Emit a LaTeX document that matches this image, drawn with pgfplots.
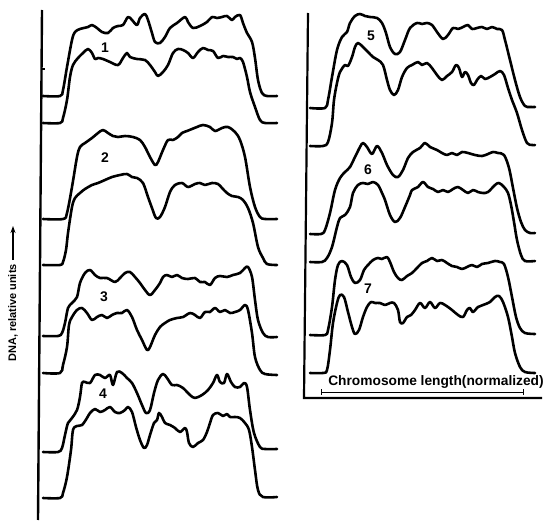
\documentclass[border=0pt]{standalone}
\usepackage{fontspec}
\setmainfont{Liberation Sans}
\usepackage{pgfplots}
\pgfplotsset{compat=1.18}
\usetikzlibrary{arrows.meta}
\tikzset{
    trace/.style={black, line width=2.6pt, smooth, tension=0.55, mark=none, line join=round, line cap=round},
    lab/.style={font=\fontsize{14}{14}\selectfont\bfseries},
}

\begin{document}
\begin{tikzpicture}
\begin{axis}[
    scale only axis, width=553bp, height=520bp,
    xmin=0, xmax=553, ymin=0, ymax=520,
    y dir=reverse, hide axis, clip=false,
]
% keep the page exactly the size of the figure
\path (axis cs:0,0) rectangle (axis cs:553,520);

% frame of both panels
\addplot[black, line width=2.4pt] coordinates {(42,10) (38,520)};
\addplot[black, line width=2.2pt] coordinates {(308,13) (304,398) (542,398)};
\addplot[black, line width=1.2pt] coordinates {(42,69) (45,69)};

% chromosome 1
\addplot[trace] coordinates {(43,96)(60,96)(63,90)(67,67)(72,40)(75,32)(80,29)(88,27)(92,25)(97,28)(102,32)(108,33)(113,28)(118,26)(123,25)(128,17)(132,20)(137,25)(140,18)(145,14)(148,20)(152,33)(155,42)(160,43)(165,37)(170,28)(177,23)(185,17)(188,22)(193,28)(200,26)(207,22)(212,17)(217,18)(222,17)(227,16)(232,20)(235,17)(240,15)(243,23)(247,33)(252,42)(255,58)(258,80)(262,93)(267,96)(277,96)};
\addplot[trace] coordinates {(43,123)(60,123)(63,118)(67,100)(70,77)(73,65)(78,58)(83,53)(88,49)(92,53)(95,59)(98,58)(103,59)(110,62)(118,65)(123,58)(127,53)(130,57)(137,59)(145,60)(150,65)(155,72)(158,76)(163,72)(168,65)(173,53)(178,49)(183,50)(188,53)(193,58)(198,52)(203,48)(208,50)(213,51)(218,58)(223,56)(228,57)(233,57)(237,59)(240,58)(243,62)(247,77)(250,92)(255,107)(260,120)(265,123)(277,123)};

% chromosome 2
\addplot[trace] coordinates {(43,219)(63,219)(67,213)(72,187)(77,157)(80,147)(85,143)(92,138)(98,133)(103,130)(108,133)(113,136)(118,137)(125,136)(133,137)(140,140)(145,147)(150,157)(155,165)(158,162)(163,150)(168,140)(173,140)(178,137)(182,133)(187,131)(192,129)(197,127)(203,125)(210,127)(215,131)(222,128)(228,127)(235,132)(240,140)(245,157)(250,187)(255,207)(260,217)(265,219)(277,219)};
\addplot[trace] coordinates {(43,265)(60,265)(63,262)(66,250)(68,233)(72,207)(75,198)(80,193)(85,189)(92,185)(98,183)(105,180)(112,177)(120,175)(127,174)(132,177)(137,178)(143,183)(148,197)(152,208)(156,218)(160,217)(165,207)(170,192)(175,185)(182,183)(188,187)(195,184)(200,183)(205,185)(212,183)(218,184)(222,188)(227,193)(232,196)(238,197)(243,200)(248,208)(253,223)(258,247)(263,258)(267,264)(277,265)};

% chromosome 3
\addplot[trace] coordinates {(43,336)(58,336)(62,333)(65,323)(68,308)(72,303)(77,297)(80,283)(85,273)(90,270)(95,275)(100,278)(107,278)(115,282)(120,278)(125,273)(130,272)(135,277)(140,283)(145,290)(150,295)(155,290)(160,283)(163,277)(167,275)(172,277)(177,275)(182,278)(188,279)(195,278)(200,282)(205,282)(210,285)(215,278)(220,276)(227,277)(233,275)(240,273)(245,268)(248,267)(252,277)(255,300)(258,320)(263,333)(268,337)(277,337)};
\addplot[trace] coordinates {(43,373)(60,373)(63,365)(67,347)(69,325)(72,317)(77,310)(82,308)(87,313)(92,320)(97,317)(102,315)(107,318)(112,315)(117,313)(122,313)(127,310)(132,317)(137,330)(142,340)(147,350)(150,347)(155,335)(160,327)(165,323)(170,320)(177,318)(183,317)(190,313)(195,315)(200,318)(205,312)(210,312)(215,308)(220,312)(225,310)(230,313)(235,312)(240,310)(245,305)(248,310)(252,333)(255,357)(260,370)(265,374)(277,375)};

% chromosome 4
\addplot[trace] coordinates {(43,452)(58,452)(62,448)(65,435)(68,423)(72,418)(77,410)(80,397)(82,383)(85,382)(90,383)(95,375)(100,375)(105,378)(110,375)(113,385)(117,372)(122,373)(127,378)(132,383)(137,393)(142,405)(146,413)(150,410)(154,393)(158,380)(163,374)(167,378)(172,385)(177,385)(183,388)(190,395)(195,398)(202,395)(208,390)(213,383)(217,375)(220,382)(224,383)(227,374)(231,382)(235,387)(240,387)(244,383)(247,387)(250,410)(254,433)(260,447)(265,449)(277,449)};
\addplot[trace] coordinates {(43,498)(60,498)(63,493)(67,477)(71,450)(73,430)(77,426)(82,425)(87,418)(90,413)(95,409)(100,412)(105,410)(110,407)(115,412)(120,413)(125,410)(128,407)(132,412)(136,427)(140,440)(144,448)(147,445)(150,435)(154,423)(157,420)(159,413)(162,417)(165,423)(170,425)(175,428)(180,432)(185,428)(187,432)(189,443)(193,447)(198,443)(203,440)(207,432)(210,423)(213,415)(218,413)(223,416)(227,414)(230,417)(235,417)(240,418)(245,423)(249,430)(252,447)(255,470)(258,490)(263,497)(277,497)};

% chromosome 5
\addplot[trace] coordinates {(310,108)(325,108)(328,100)(332,77)(337,50)(342,37)(347,32)(350,23)(355,16)(360,14)(365,16)(370,17)(377,18)(382,23)(386,33)(390,47)(395,54)(400,52)(405,40)(410,28)(417,23)(422,24)(427,23)(432,25)(437,32)(443,39)(448,35)(453,28)(458,29)(463,27)(468,25)(472,29)(477,28)(482,27)(487,29)(492,27)(497,29)(502,30)(505,40)(510,60)(515,80)(520,97)(525,106)(530,107)(535,107)};
\addplot[trace] coordinates {(310,146)(323,146)(328,142)(332,123)(334,100)(337,83)(340,72)(345,65)(348,66)(352,57)(355,47)(358,43)(363,47)(368,52)(373,57)(378,60)(383,65)(387,80)(390,90)(394,95)(398,90)(402,77)(407,68)(412,65)(418,62)(422,65)(427,63)(432,68)(437,75)(442,80)(447,76)(452,72)(456,65)(459,68)(462,77)(465,72)(468,75)(471,83)(474,85)(477,80)(481,76)(485,79)(490,77)(495,74)(500,71)(504,75)(508,88)(512,100)(517,113)(522,130)(527,143)(532,145)(535,145)};

% chromosome 6
\addplot[trace] coordinates {(310,234)(321,234)(325,230)(330,213)(335,190)(340,178)(345,172)(350,167)(355,157)(360,147)(363,143)(367,147)(372,154)(377,146)(382,153)(387,165)(393,175)(398,177)(403,170)(408,158)(413,152)(420,148)(425,143)(430,147)(437,150)(442,153)(447,155)(452,153)(457,155)(462,152)(468,153)(475,155)(482,156)(488,154)(493,152)(498,153)(504,155)(509,168)(513,188)(517,208)(521,222)(525,230)(530,233)(535,233)};
\addplot[trace] coordinates {(310,262)(322,262)(327,258)(332,247)(337,227)(340,218)(345,215)(350,207)(353,193)(358,185)(363,183)(368,184)(373,182)(378,185)(382,193)(385,200)(390,215)(395,222)(400,218)(405,207)(410,195)(412,190)(418,187)(423,182)(428,187)(433,189)(438,192)(443,190)(448,192)(453,189)(458,187)(463,190)(468,193)(473,190)(478,192)(483,193)(488,192)(495,185)(499,183)(504,187)(508,193)(511,205)(514,222)(517,240)(521,255)(525,261)(535,261)};

% chromosome 7
\addplot[trace] coordinates {(310,335)(325,335)(328,330)(332,307)(335,280)(338,265)(342,261)(347,265)(351,277)(355,283)(360,280)(364,270)(368,265)(373,260)(378,258)(382,259)(387,257)(390,262)(394,272)(398,278)(402,280)(407,276)(412,273)(417,268)(422,263)(427,261)(432,258)(437,261)(442,260)(447,263)(452,266)(457,267)(462,269)(467,267)(472,265)(477,267)(482,264)(488,263)(495,261)(500,262)(504,264)(508,277)(512,297)(516,317)(520,328)(525,333)(535,334)};
\addplot[trace] coordinates {(310,373)(323,373)(327,370)(330,350)(333,323)(337,303)(340,295)(344,297)(348,312)(352,327)(355,334)(359,330)(363,317)(367,307)(371,302)(375,303)(380,303)(385,305)(390,303)(394,303)(398,310)(400,322)(403,323)(407,317)(411,315)(415,310)(420,303)(425,308)(430,302)(435,308)(440,303)(445,305)(452,310)(458,315)(463,317)(467,310)(470,308)(473,312)(478,307)(483,305)(490,302)(495,297)(499,296)(503,302)(508,317)(512,337)(515,353)(520,367)(525,372)(535,373)};

% chromosome length bracket
\addplot[black, line width=1pt] coordinates {(321,392) (523,392)};
\addplot[black, line width=1pt] coordinates {(321,389) (321,395)};
\addplot[black, line width=1pt] coordinates {(523,389) (523,395)};

% labels
\node[lab] at (axis cs:105,48) {1};
\node[lab] at (axis cs:105,158) {2};
\node[lab] at (axis cs:104,297) {3};
\node[lab] at (axis cs:103,394) {4};
\node[lab] at (axis cs:371,36) {5};
\node[lab] at (axis cs:368,170) {6};
\node[lab] at (axis cs:368,289) {7};
\node[anchor=base, inner sep=0pt, font=\fontsize{13.8}{14}\selectfont\bfseries] at (axis cs:436,385) {Chromosome length(normalized)};
\node[rotate=90, anchor=east, inner sep=0pt, font=\fontsize{11}{12}\selectfont\bfseries] at (axis cs:13,264) {DNA, relative units};
\draw[black, line width=1.3pt, -{Stealth[length=7pt,width=5pt]}] (axis cs:13,260) -- (axis cs:13,226);
\end{axis}
\end{tikzpicture}
\end{document}
